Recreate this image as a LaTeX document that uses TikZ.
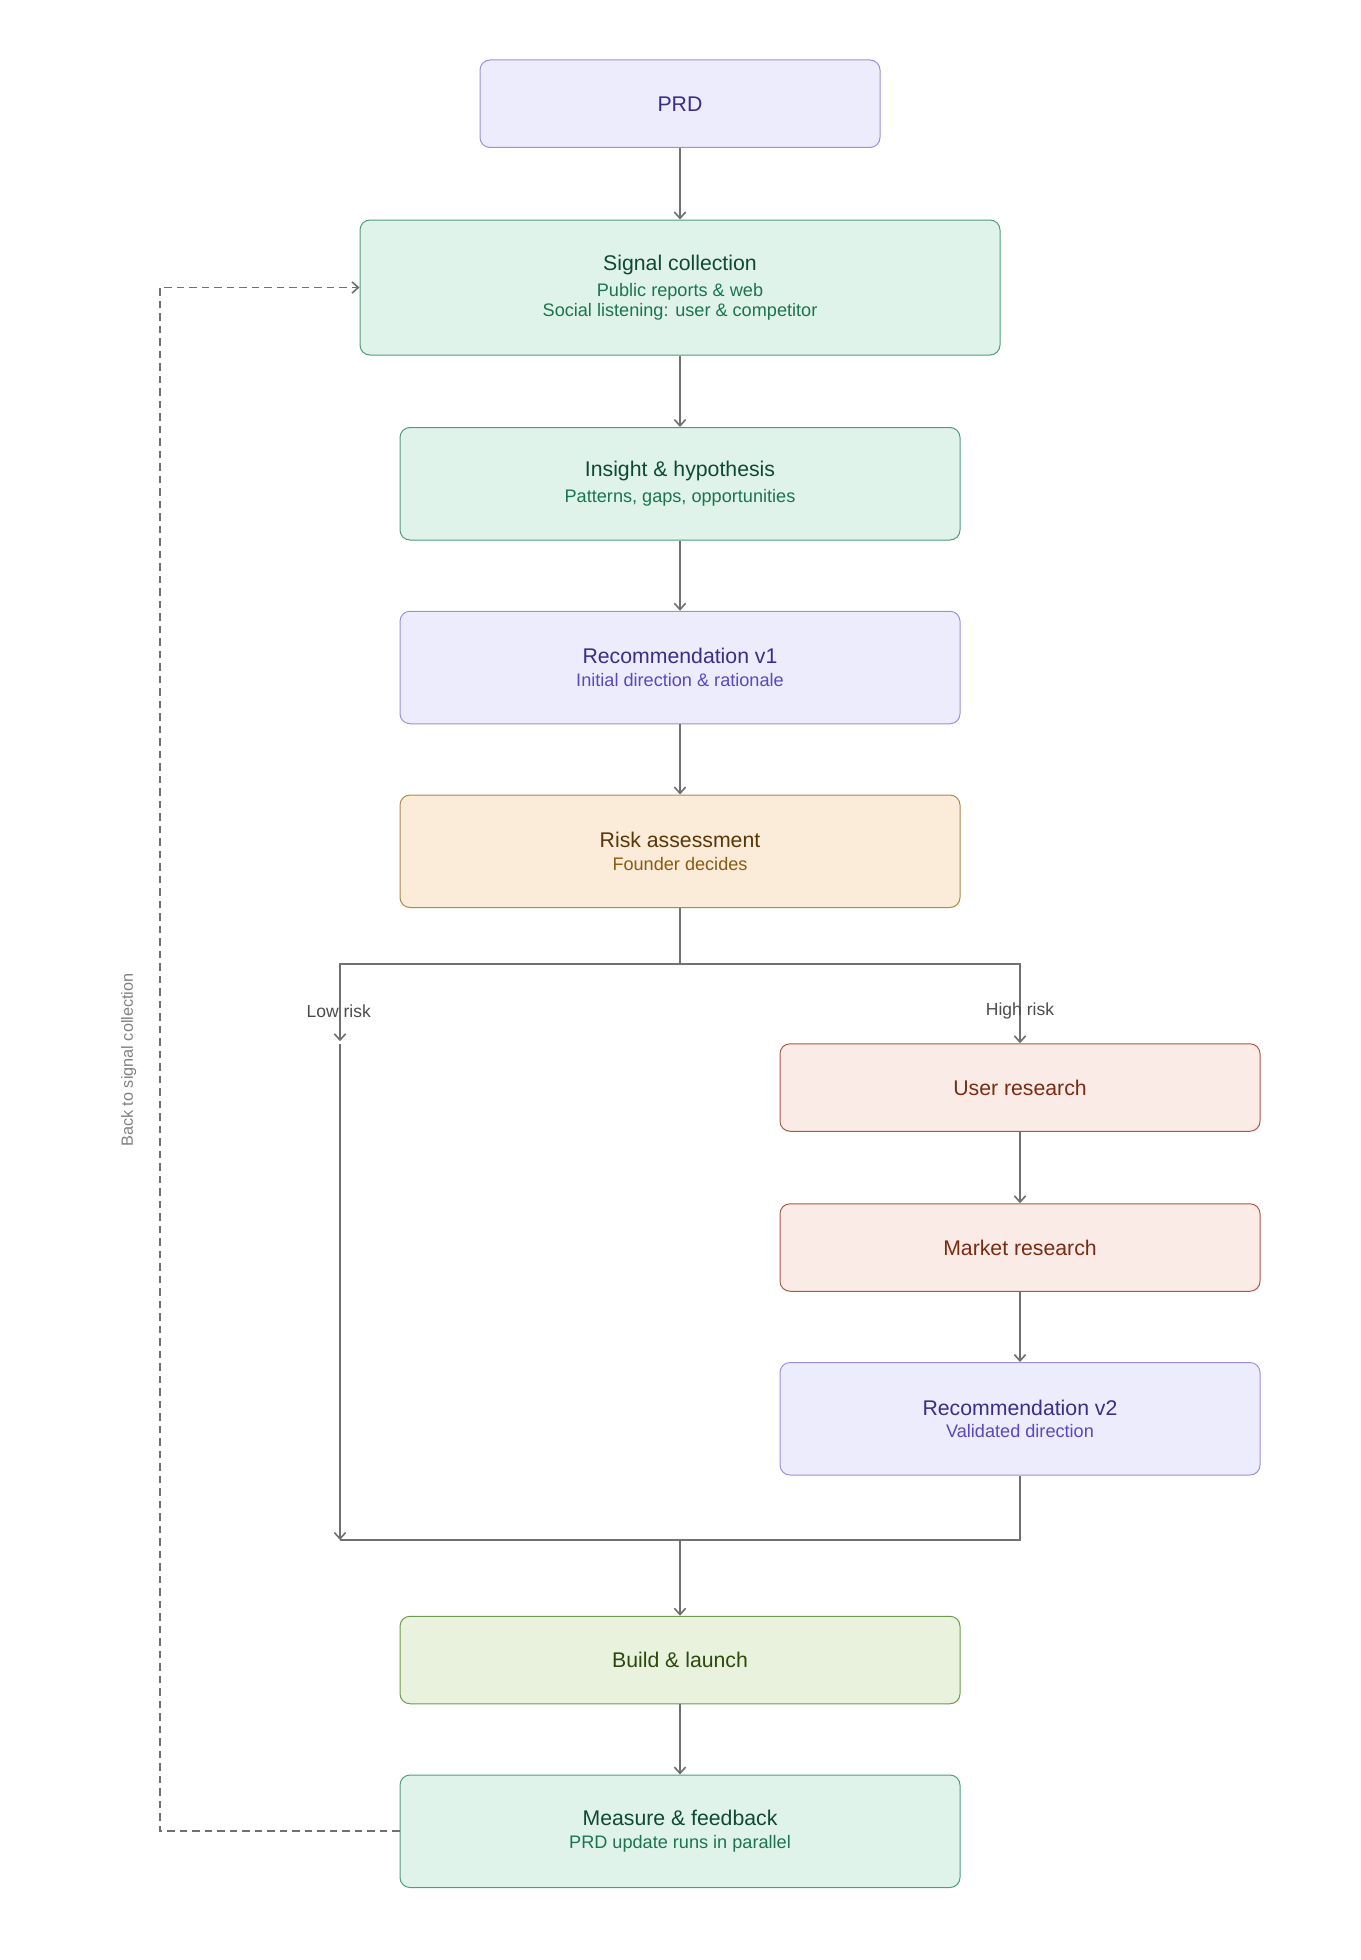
\documentclass[tikz,border=0pt]{standalone}
\usepackage{fontspec}
\setmainfont{Liberation Sans}
\usetikzlibrary{arrows.meta}
\definecolor{pfill}{HTML}{ECECFD}\definecolor{pdraw}{HTML}{9F8FDB}\definecolor{ptit}{HTML}{3A2E8A}\definecolor{psub}{HTML}{5A48BE}
\definecolor{gfill}{HTML}{E0F3EB}\definecolor{gdraw}{HTML}{4F9C7C}\definecolor{gtit}{HTML}{0E4A33}\definecolor{gsub}{HTML}{1B7450}
\definecolor{ofill}{HTML}{FAECD8}\definecolor{odraw}{HTML}{B08848}\definecolor{otit}{HTML}{5A3608}\definecolor{osub}{HTML}{8A5A12}
\definecolor{rfill}{HTML}{FAEBE6}\definecolor{rdraw}{HTML}{A65A48}\definecolor{rtit}{HTML}{7A2C12}
\definecolor{lfill}{HTML}{E8F2DD}\definecolor{ldraw}{HTML}{6E9A50}\definecolor{ltit}{HTML}{2C4A0C}
\definecolor{edge}{HTML}{707070}
\begin{document}
\begin{tikzpicture}[x=1pt,y=-1pt,
  box/.style={rounded corners=8pt,line width=0.8pt,minimum height=#1,align=center,inner sep=0pt},
  pbox/.style={fill=pfill,draw=pdraw},gbox/.style={fill=gfill,draw=gdraw},
  obox/.style={fill=ofill,draw=odraw},rbox/.style={fill=rfill,draw=rdraw},lbox/.style={fill=lfill,draw=ldraw},
  tit/.style={font=\fontsize{17}{20}\selectfont},
  sub/.style={font=\fontsize{14.5}{19}\selectfont},
  arr/.style={draw=edge,line width=1.5pt,-{Straight Barb[length=5pt,width=9pt,line width=1.3pt]}},
  ln/.style={draw=edge,line width=1.5pt},
  lbl/.style={font=\fontsize{14}{16}\selectfont,text=black!70}]
\useasboundingbox (0,0) rectangle (1088,1568);
\node[box=70pt,pbox,minimum width=320pt] (prd) at (544,83) {\tikz[baseline]\node[tit,text=ptit,inner sep=0]{PRD};};
\node[box=108pt,gbox,minimum width=512pt] (sig) at (544,230) {\textcolor{gtit}{\fontsize{17}{20}\selectfont Signal collection}\\[6pt]\textcolor{gsub}{\fontsize{14.5}{17}\selectfont Public reports \& web}\\[1pt]\textcolor{gsub}{\fontsize{14.5}{17}\selectfont Social listening: user \& competitor}};
\node[box=90pt,gbox,minimum width=448pt] (ins) at (544,387) {\textcolor{gtit}{\fontsize{17}{20}\selectfont Insight \& hypothesis}\\[6pt]\textcolor{gsub}{\fontsize{14.5}{17}\selectfont Patterns, gaps, opportunities}};
\node[box=90pt,pbox,minimum width=448pt] (rv1) at (544,534) {\textcolor{ptit}{\fontsize{17}{20}\selectfont Recommendation v1}\\[6pt]\textcolor{psub}{\fontsize{14.5}{17}\selectfont Initial direction \& rationale}};
\node[box=90pt,obox,minimum width=448pt] (risk) at (544,681) {\textcolor{otit}{\fontsize{17}{20}\selectfont Risk assessment}\\[6pt]\textcolor{osub}{\fontsize{14.5}{17}\selectfont Founder decides}};
\node[box=70pt,rbox,minimum width=384pt] (ur) at (816,870) {\textcolor{rtit}{\fontsize{17}{20}\selectfont User research}};
\node[box=70pt,rbox,minimum width=384pt] (mr) at (816,998) {\textcolor{rtit}{\fontsize{17}{20}\selectfont Market research}};
\node[box=90pt,pbox,minimum width=384pt] (rv2) at (816,1135) {\textcolor{ptit}{\fontsize{17}{20}\selectfont Recommendation v2}\\[6pt]\textcolor{psub}{\fontsize{14.5}{17}\selectfont Validated direction}};
\node[box=70pt,lbox,minimum width=448pt] (bl) at (544,1328) {\textcolor{ltit}{\fontsize{17}{20}\selectfont Build \& launch}};
\node[box=90pt,gbox,minimum width=448pt] (mf) at (544,1465) {\textcolor{gtit}{\fontsize{17}{20}\selectfont Measure \& feedback}\\[6pt]\textcolor{gsub}{\fontsize{14.5}{17}\selectfont PRD update runs in parallel}};
\coordinate (br) at (544,771);
\coordinate (lowa) at (272,833);
\coordinate (lowb) at (272,835);
\coordinate (mrg) at (272,1232);
\coordinate (mid) at (544,1232);
\coordinate (dl) at (128,1465);
\coordinate (dt) at (128,230);
\draw[arr] (prd) -- (sig);
\draw[arr] (sig) -- (ins);
\draw[arr] (ins) -- (rv1);
\draw[arr] (rv1) -- (risk);
\draw[ln] (risk) -- (br);
\draw[arr] (br) -| (lowa);
\draw[arr] (br) -| (ur);
\draw[arr] (lowb) -- (mrg);
\draw[arr] (ur) -- (mr);
\draw[arr] (mr) -- (rv2);
\draw[ln] (rv2) |- (mrg);
\draw[arr] (mid) -- (bl);
\draw[arr] (bl) -- (mf);
\draw[arr,dashed,dash pattern=on 6pt off 4pt,line width=1.3pt] (mf.west) -- (dl) -- (dt) -- (sig.west);
\node[lbl] at (271,809) {Low risk};
\node[lbl] at (816,809) {High risk};
\node[font=\fontsize{13}{15}\selectfont,text=black!50,rotate=90] at (103,848) {Back to signal collection};
\end{tikzpicture}
\end{document}
